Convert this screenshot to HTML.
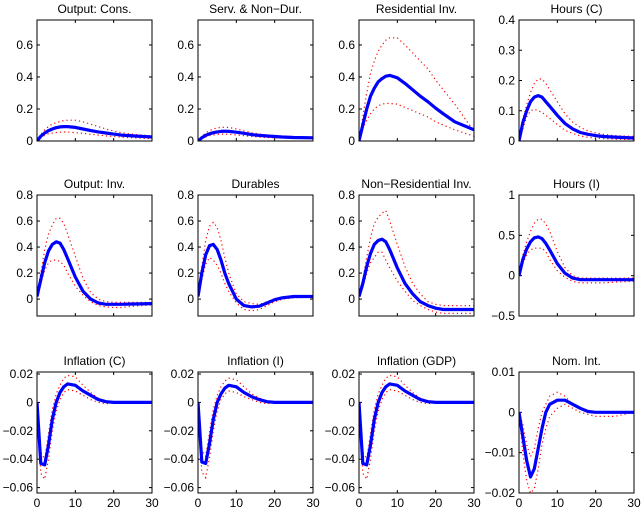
<!DOCTYPE html>
<html><head><meta charset="utf-8">
<style>
html,body{margin:0;padding:0;background:#fff;}
svg{display:block;font-family:"Liberation Sans",sans-serif;}
</style></head>
<body>
<svg id="chart" width="642" height="508" viewBox="0 0 642 508"></svg>
<script>
const periods = [0,1,2,3,4,5,6,7,8,10,12,14,16,18,20,22,25,30];
const titles = ["Output: Cons.","Serv. & Non\u2212Dur.","Residential Inv.","Hours (C)","Output: Inv.","Durables","Non\u2212Residential Inv.","Hours (I)","Inflation (C)","Inflation (I)","Inflation (GDP)","Nom. Int."];
const meanCons=[0,.03,.05,.065,.075,.083,.088,.09,.09,.085,.075,.065,.057,.05,.043,.037,.032,.025];
const upCons=[0,.04,.07,.09,.105,.115,.122,.127,.13,.13,.12,.105,.09,.075,.062,.052,.042,.032];
const loCons=[0,.02,.035,.045,.05,.053,.055,.056,.056,.052,.048,.042,.037,.032,.028,.024,.02,.015];
const meanServ=[0,.02,.035,.045,.052,.057,.06,.061,.06,.055,.048,.04,.035,.031,.028,.025,.022,.02];
const upServ=[0,.03,.05,.065,.075,.082,.085,.086,.085,.075,.063,.052,.044,.038,.034,.03,.027,.025];
const loServ=[0,.015,.025,.033,.038,.041,.043,.043,.042,.038,.033,.028,.025,.022,.02,.018,.017,.015];
const meanRes=[0,.1,.2,.28,.33,.37,.39,.405,.41,.395,.36,.32,.28,.245,.205,.17,.12,.07];
const upRes=[0,.15,.3,.42,.5,.56,.6,.63,.645,.645,.6,.55,.5,.45,.38,.32,.23,.06];
const loRes=[0,.08,.13,.17,.2,.22,.23,.235,.235,.23,.21,.19,.17,.15,.12,.1,.07,.03];
const meanHC=[0,.06,.1,.13,.145,.15,.145,.13,.115,.085,.058,.04,.028,.022,.018,.015,.013,.01];
const upHC=[0,.07,.12,.16,.19,.205,.205,.19,.17,.13,.09,.062,.045,.033,.027,.022,.018,.015];
const loHC=[0,.04,.08,.1,.105,.1,.095,.085,.075,.055,.035,.025,.017,.012,.01,.008,.006,.005];
const meanInv=[.02,.15,.28,.37,.42,.44,.43,.38,.31,.17,.06,0,-.03,-.04,-.04,-.04,-.038,-.035];
const upInv=[.02,.2,.38,.5,.57,.62,.62,.58,.5,.33,.16,.05,0,-.02,-.025,-.025,-.025,-.025];
const loInv=[.02,.12,.22,.28,.3,.3,.29,.26,.2,.1,.03,-.02,-.05,-.06,-.065,-.065,-.055,-.045];
const meanDur=[.02,.2,.34,.41,.42,.38,.3,.2,.12,0,-.05,-.06,-.055,-.03,-.005,.01,.02,.02];
const upDur=[.02,.25,.45,.56,.59,.55,.45,.32,.2,.04,-.02,-.035,-.04,-.02,0,.015,.025,.025];
const loDur=[.02,.15,.27,.32,.3,.26,.2,.12,.06,-.03,-.08,-.09,-.08,-.05,-.02,0,.01,.015];
const meanNR=[.02,.12,.25,.35,.42,.45,.46,.44,.38,.24,.12,.04,-.02,-.05,-.07,-.08,-.08,-.08];
const upNR=[.02,.15,.32,.47,.58,.63,.66,.68,.6,.42,.25,.12,.04,-.02,-.04,-.05,-.05,-.05];
const loNR=[0,.09,.2,.28,.32,.36,.36,.3,.24,.14,.06,-.01,-.05,-.08,-.1,-.11,-.11,-.11];
const meanHI=[0,.2,.33,.42,.47,.48,.46,.4,.32,.15,.03,-.03,-.05,-.05,-.05,-.05,-.05,-.05];
const upHI=[0,.25,.42,.55,.65,.7,.7,.64,.55,.3,.1,0,-.03,-.03,-.03,-.03,-.03,-.03];
const loHI=[0,.15,.26,.32,.34,.34,.34,.3,.2,.06,-.02,-.07,-.09,-.09,-.09,-.09,-.08,-.07];
const meanPiC=[0,-.043,-.044,-.03,-.012,0,.007,.011,.013,.012,.008,.005,.002,.0005,0,0,0,0];
const upPiC=[0,-.035,-.04,-.022,-.005,.006,.012,.017,.019,.018,.012,.007,.003,.001,0,0,0,0];
const loPiC=[0,-.05,-.054,-.04,-.02,-.006,.002,.007,.009,.008,.005,.002,0,-.001,0,0,0,0];
const meanPiI=[0,-.042,-.043,-.029,-.012,0,.006,.01,.012,.011,.007,.004,.002,.0005,0,0,0,0];
const upPiI=[0,-.034,-.038,-.021,-.005,.005,.011,.015,.017,.016,.011,.006,.003,.001,0,0,0,0];
const loPiI=[0,-.049,-.053,-.039,-.02,-.006,.002,.006,.008,.007,.004,.002,0,-.001,0,0,0,0];
const meanPiY=[0,-.043,-.044,-.03,-.012,0,.007,.011,.013,.012,.008,.005,.002,.0005,0,0,0,0];
const upPiY=[0,-.035,-.04,-.022,-.005,.006,.012,.017,.019,.018,.012,.007,.003,.001,0,0,0,0];
const loPiY=[0,-.05,-.054,-.04,-.02,-.006,.002,.007,.009,.008,.005,.002,0,-.001,0,0,0,0];
const meanR=[0,-.006,-.012,-.016,-.014,-.009,-.004,0,.002,.003,.003,.002,.001,.0002,0,0,0,0];
const upR=[0,-.003,-.008,-.011,-.009,-.004,0,.002,.004,.005,.004,.002,.001,0,0,0,0,0];
const loR=[0,-.01,-.017,-.02,-.019,-.014,-.008,-.004,-.001,.001,.002,.001,0,-.0005,-.001,-.001,-.001,0];
const yTicksA=[0,0.2,0.4,0.6];
const yTicksHC=[0,0.1,0.2,0.3,0.4];
const yTicksB=[0,0.2,0.4,0.6,0.8];
const yTicksHI=[-0.5,0,0.5,1];
const yTicksPi=[-0.06,-0.04,-0.02,0,0.02];
const yTicksR=[-0.02,-0.01,0,0.01];
const xTicks=[0,10,20,30];
const series=[[meanCons,upCons,loCons],[meanServ,upServ,loServ],[meanRes,upRes,loRes],[meanHC,upHC,loHC],
[meanInv,upInv,loInv],[meanDur,upDur,loDur],[meanNR,upNR,loNR],[meanHI,upHI,loHI],
[meanPiC,upPiC,loPiC],[meanPiI,upPiI,loPiI],[meanPiY,upPiY,loPiY],[meanR,upR,loR]];
const yLims=[[0,.756],[0,.756],[0,.756],[0,.4],[-.13,.8],[-.13,.8],[-.13,.8],[-.5,1],[-.0638,.0214],[-.0638,.0214],[-.0638,.0214],[-.02,.01]];
const yTickSets=[yTicksA,yTicksA,yTicksA,yTicksHC,yTicksB,yTicksB,yTicksB,yTicksHI,yTicksPi,yTicksPi,yTicksPi,yTicksR];

const NS="http://www.w3.org/2000/svg";
const svg=document.getElementById('chart');
const colX=[37,198,359,519], rowY=[20,195,372], W=115, H=121;
function mk(tag,attrs,parent){const e=document.createElementNS(NS,tag);for(const k in attrs)e.setAttribute(k,attrs[k]);parent.appendChild(e);return e;}
function fmt(v){return String(+v.toFixed(4)).replace('-','\u2212');}
for(let i=0;i<12;i++){
  const r=Math.floor(i/4), c=i%4;
  const x0=colX[c], y0=rowY[r];
  const [ymin,ymax]=yLims[i];
  const sx=t=>x0+t/30*W;
  const sy=v=>y0+H-(v-ymin)/(ymax-ymin)*H;
  const g=mk('g',{},svg);
  
  
  const tt=mk('text',{x:x0+W/2,y:y0-7,'text-anchor':'middle','font-size':'12',fill:'#000'},g);
  tt.textContent=titles[i];
  
  
  const clipId='clip'+i;
  const cp=mk('clipPath',{id:clipId},g);
  mk('rect',{x:x0,y:y0,width:W,height:H},cp);
  for(const v of yTickSets[i]){
    const y=sy(v);
    mk('line',{x1:x0,x2:x0+3,y1:y,y2:y,stroke:'#000','stroke-width':1},g);
    mk('line',{x1:x0+W-3,x2:x0+W,y1:y,y2:y,stroke:'#000','stroke-width':1},g);
    const lt=mk('text',{x:x0-4,y:y+4,'text-anchor':'end','font-size':'12',fill:'#000'},g);
    lt.textContent=fmt(v);
    
    
  }
  for(const v of xTicks){
    const x=sx(v);
    mk('line',{x1:x,x2:x,y1:y0+H,y2:y0+H-3,stroke:'#000','stroke-width':1},g);
    mk('line',{x1:x,x2:x,y1:y0,y2:y0+3,stroke:'#000','stroke-width':1},g);
    if(r===2){
      const xt=mk('text',{x:x,y:y0+H+14,'text-anchor':'middle','font-size':'12',fill:'#000'},g);
      xt.textContent=String(v);
      
      
    }
  }
  const [m,u,l]=series[i];
  const pts=a=>a.map((v,k)=>sx(periods[k]).toFixed(1)+','+sy(v).toFixed(1)).join(' ');
  const pu=mk('polyline',{points:pts(u),fill:'none',stroke:'#f00','stroke-width':1.2,'stroke-dasharray':'1.2,3','clip-path':'url(#'+clipId+')'},g);
  
  
  const pl=mk('polyline',{points:pts(l),fill:'none',stroke:'#f00','stroke-width':1.2,'stroke-dasharray':'1.2,3','clip-path':'url(#'+clipId+')'},g);
  
  
  const pm=mk('polyline',{points:pts(m),fill:'none',stroke:'#0000ff','stroke-width':3.2,'stroke-linejoin':'round','clip-path':'url(#'+clipId+')'},g);
  
  
  mk('rect',{x:x0,y:y0,width:W,height:H,fill:'none',stroke:'#000','stroke-width':1},g);
}
</script>
</body></html>
